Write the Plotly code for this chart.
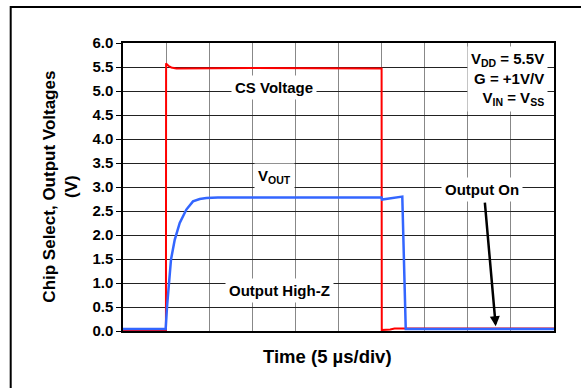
import plotly.graph_objects as go

# ---- data (time in µs, voltage in V) ----
cs_time = [0, 4.98, 5.0, 5.05, 5.3, 5.6, 6.2, 15.0, 30.0, 30.02, 31.0, 31.5, 50]
cs_volt = [0.0, 0.0, 5.58, 5.56, 5.52, 5.49, 5.47, 5.48, 5.47, 0.02, 0.03, 0.05, 0.05]

vout_time = [0, 4.95, 5.11, 5.3, 5.57, 6.0, 6.58, 7.35, 8.12, 8.9, 9.67, 11.0,
             30.0, 30.05, 32.4, 32.8, 50]
vout_volt = [0.04, 0.04, 0.51, 1.0, 1.49, 1.9, 2.25, 2.53, 2.70, 2.75, 2.77, 2.78,
             2.78, 2.74, 2.80, 0.04, 0.04]

y_ticks = [0.0, 0.5, 1.0, 1.5, 2.0, 2.5, 3.0, 3.5, 4.0, 4.5, 5.0, 5.5, 6.0]
y_tick_text = [f"{v:.1f}" for v in y_ticks]

FONT = "Liberation Sans, Arial, sans-serif"

fig = go.Figure()
fig.add_trace(go.Scatter(x=cs_time, y=cs_volt, mode="lines",
                         line=dict(color="#FF0000", width=2), showlegend=False))
fig.add_trace(go.Scatter(x=vout_time, y=vout_volt, mode="lines",
                         line=dict(color="#3366FF", width=2.5), showlegend=False))

fig.update_layout(
    width=581, height=388,
    margin=dict(l=123, r=27, t=43, b=57),
    paper_bgcolor="white", plot_bgcolor="white",
    hovermode=False,
    font=dict(family=FONT, size=15, color="black", weight="bold"),
)
fig.update_xaxes(range=[0, 50], dtick=5, showticklabels=False,
                 showgrid=True, gridcolor="#888888", gridwidth=1,
                 showline=True, linecolor="black", linewidth=1.5, mirror=True,
                 ticks="", zeroline=False)
fig.update_yaxes(range=[0, 6], tickvals=y_ticks, ticktext=y_tick_text,
                 showgrid=True, gridcolor="#222222", gridwidth=1,
                 showline=True, linecolor="black", linewidth=1.5, mirror=True,
                 ticks="outside", ticklen=5, tickcolor="black", zeroline=False,
                 tickfont=dict(family=FONT, size=15, color="black", weight="bold"))

lab = dict(family=FONT, size=15, color="black", weight="bold")

# axis titles
fig.add_annotation(xref="paper", yref="paper", x=-0.147, y=0.5,
                   text="Chip Select, Output Voltages<br>(V)", textangle=-90,
                   showarrow=False, xanchor="center", yanchor="middle",
                   font=dict(family=FONT, size=17, color="black", weight="bold"))
fig.add_annotation(xref="paper", yref="paper", x=0.474, y=-0.089,
                   text="Time (5 µs/div)", showarrow=False,
                   xanchor="center", yanchor="middle",
                   font=dict(family=FONT, size=18.5, color="black", weight="bold"))

# in-plot labels
fig.add_annotation(x=17.48, y=5.07, text="CS Voltage", showarrow=False,
                   bgcolor="white", borderpad=3, font=lab)
fig.add_annotation(x=17.6, y=3.21, text="V<sub>OUT</sub>", showarrow=False,
                   bgcolor="white", borderpad=3, font=lab)
fig.add_annotation(x=18.1, y=0.84, text="Output High-Z", showarrow=False,
                   bgcolor="white", borderpad=3, font=lab)
fig.add_annotation(x=41.7, y=2.94, text="Output On", showarrow=False,
                   bgcolor="white", borderpad=3, font=lab)
fig.add_annotation(x=43.24, y=0.1, ax=-11, ay=-125, text="", showarrow=True,
                   arrowhead=2, arrowsize=0.8, arrowwidth=2.5, arrowcolor="black")
fig.add_annotation(x=49.3, y=5.24,
                   text="V<sub>DD</sub> = 5.5V<br>G = +1V/V<br>V<sub>IN</sub> = V<sub>SS</sub>",
                   showarrow=False, xanchor="right", yanchor="middle", align="right",
                   bgcolor="white", borderpad=3, font=lab)

# overline on CS (decoration)
fig.add_shape(type="line", xref="paper", yref="paper",
              x0=(233 - 123.3) / 431, x1=(252 - 123.3) / 431,
              y0=(331.3 - 77.5) / 288, y1=(331.3 - 77.5) / 288,
              line=dict(color="black", width=1.5))

# outer frame
fig.add_shape(type="rect", xref="paper", yref="paper",
              x0=(11 - 123.3) / 431, x1=1.3, y0=-0.4, y1=(331.3 - 7.3) / 288,
              line=dict(color="black", width=2), fillcolor="rgba(0,0,0,0)")

fig.write_html("out.html", config={"displayModeBar": False},
               post_script="document.body.style.margin='0';")
